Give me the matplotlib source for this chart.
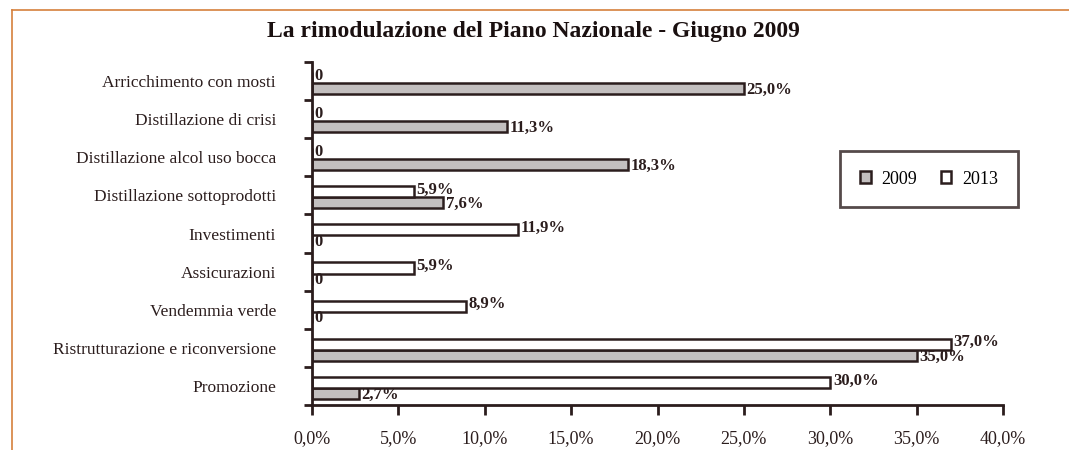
import numpy as np
import matplotlib.pyplot as plt
from matplotlib.lines import Line2D

# data (top to bottom)
categories = ['Arricchimento con mosti', 'Distillazione di crisi',
              'Distillazione alcol uso bocca', 'Distillazione sottoprodotti',
              'Investimenti', 'Assicurazioni', 'Vendemmia verde',
              'Ristrutturazione e riconversione', 'Promozione']
vals_2009 = [25.0, 11.3, 18.3, 7.6, 0, 0, 0, 35.0, 2.7]
vals_2013 = [0, 0, 0, 5.9, 11.9, 5.9, 8.9, 37.0, 30.0]
xticks = [0, 5, 10, 15, 20, 25, 30, 35, 40]

dark = '#2b1d1d'
gray = '#c3bfbf'
plt.rcParams['font.family'] = ['Liberation Serif', 'DejaVu Serif']

fig = plt.figure(figsize=(10.69, 4.5), dpi=100)
ax = fig.add_axes([312 / 1069, 1 - 405 / 450, (1003 - 312) / 1069, (405 - 62) / 450])

n = len(categories)
y = np.arange(n)[::-1].astype(float)  # top category highest
h = 0.29

ax.barh(y - h / 2 - 0.05, vals_2009, height=h, color=gray, edgecolor=dark, linewidth=1.8, label='2009')
ax.barh(y + h / 2 - 0.05, vals_2013, height=h, color='white', edgecolor=dark, linewidth=1.8, label='2013')

def fmt(v):
    if v == 0:
        return '0'
    return f'{v:.1f}'.replace('.', ',') + '%'

for yi, v in zip(y, vals_2009):
    ax.text(v + 0.15, yi - h / 2 - 0.08, fmt(v), ha='left', va='center',
            fontsize=12, fontweight='bold', color=dark)
for yi, v in zip(y, vals_2013):
    ax.text(v + 0.15, yi + h / 2 + 0.0, fmt(v), ha='left', va='center',
            fontsize=12, fontweight='bold', color=dark)

ax.set_xlim(0, 40)
ax.set_ylim(-0.5, n - 0.5)

ax.set_xticks(xticks)
ax.set_xticklabels([f'{t:.1f}'.replace('.', ',') + '%' for t in xticks], fontsize=13)
ax.tick_params(axis='x', direction='out', length=7, width=2, color=dark, pad=11, labelcolor=dark)

# boundary ticks as major, category names on minor
ax.set_yticks(np.arange(n + 1) - 0.5)
ax.set_yticklabels([])
ax.tick_params(axis='y', which='major', direction='out', length=6, width=2, color=dark)
ax.set_yticks(y, minor=True)
ax.set_yticklabels(categories, minor=True, fontsize=12.5, color=dark)
ax.tick_params(axis='y', which='minor', length=0, pad=26)

for s in ['top', 'right']:
    ax.spines[s].set_visible(False)
for s in ['left', 'bottom']:
    ax.spines[s].set_linewidth(2)
    ax.spines[s].set_color(dark)

fig.text(533 / 1069, 1 - 31 / 450, 'La rimodulazione del Piano Nazionale - Giugno 2009',
         ha='center', va='center', fontsize=17, fontweight='bold', color='#1a1010')

handles = [
    plt.Rectangle((0, 0), 1, 1, facecolor=gray, edgecolor=dark, linewidth=1.8),
    plt.Rectangle((0, 0), 1, 1, facecolor='white', edgecolor=dark, linewidth=1.8),
]
leg = fig.legend(handles, ['2009', '2013'], ncol=2, loc='center',
                 bbox_to_anchor=(929 / 1069, 1 - 179 / 450), fontsize=13,
                 fancybox=False, handlelength=0.6, handleheight=0.6,
                 borderpad=1.1, borderaxespad=0, columnspacing=1.3, handletextpad=0.6)
leg.get_frame().set_edgecolor(dark)
leg.get_frame().set_linewidth(2)

# orange page frame
fig.add_artist(Line2D([12 / 1069, 1], [1 - 10 / 450, 1 - 10 / 450], color='#d6803c', linewidth=1.2))
fig.add_artist(Line2D([12 / 1069, 12 / 1069], [0, 1 - 10 / 450], color='#d6803c', linewidth=1.2))

fig.savefig('out.png', dpi=100)
